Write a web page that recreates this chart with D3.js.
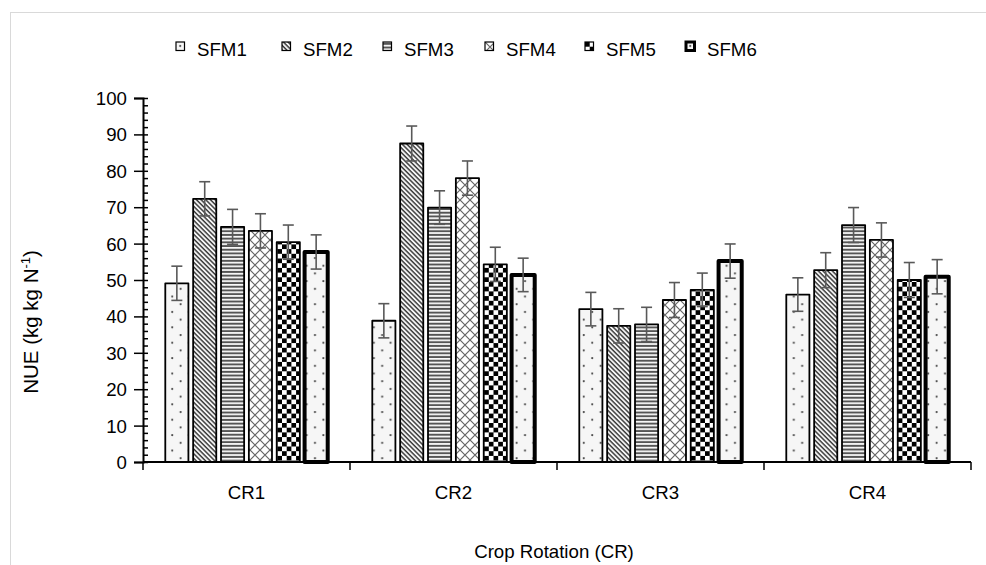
<!DOCTYPE html>
<html>
<head>
<meta charset="utf-8">
<script src="https://cdn.jsdelivr.net/npm/d3@7"></script>
<style>
  body { margin: 0; background: #fff; }
  text { font-family: 'Liberation Sans', Arial, sans-serif; fill: #000; }
</style>
</head>
<body>
<div id="chart"></div>
<script>
// data
const categories = ['CR1', 'CR2', 'CR3', 'CR4']
const seriesNames = ['SFM1', 'SFM2', 'SFM3', 'SFM4', 'SFM5', 'SFM6']
const sfm1 = [49.1, 38.8, 42.0, 46.0]
const sfm2 = [72.3, 87.5, 37.4, 52.7]
const sfm3 = [64.6, 69.9, 37.8, 65.1]
const sfm4 = [63.5, 78.0, 44.5, 61.0]
const sfm5 = [60.4, 54.3, 47.3, 50.0]
const sfm6 = [57.7, 51.4, 55.2, 50.9]
const err1 = [4.7, 4.7, 4.6, 4.6]
const err2 = [4.7, 4.8, 4.7, 4.8]
const err3 = [4.8, 4.6, 4.7, 4.8]
const err4 = [4.7, 4.7, 4.8, 4.7]
const err5 = [4.7, 4.7, 4.6, 4.8]
const err6 = [4.7, 4.6, 4.7, 4.7]
const yTicks = [0, 10, 20, 30, 40, 50, 60, 70, 80, 90, 100]

const values = [sfm1, sfm2, sfm3, sfm4, sfm5, sfm6]
const errors = [err1, err2, err3, err4, err5, err6]
const rows = []
seriesNames.forEach((s, i) => {
  categories.forEach((c, j) => {
    rows.push({ series: s, idx: i, cat: c, value: values[i][j], err: errors[i][j] })
  })
})

const width = 986, height = 565
const plot = { left: 143, right: 971, top: 98, bottom: 462 }
const fontSize = 18.67

const svg = d3.select('#chart').append('svg')
  .attr('width', width)
  .attr('height', height)

// outer chart frame
svg.append('rect')
  .attr('x', 10.5).attr('y', 12.5)
  .attr('width', width).attr('height', height)
  .attr('fill', 'none')
  .attr('stroke', '#d9d9d9')

const defs = svg.append('defs')

// fill patterns
function dots (id) {
  const p = defs.append('pattern').attr('id', id)
    .attr('patternUnits', 'userSpaceOnUse')
    .attr('width', 16.8).attr('height', 15.4)
  p.append('rect').attr('width', 16.8).attr('height', 15.4).attr('fill', '#f6f6f6')
  p.append('circle').attr('cx', 4.2).attr('cy', 3.9).attr('r', 1.1).attr('fill', '#444')
  p.append('circle').attr('cx', 12.6).attr('cy', 11.6).attr('r', 1.1).attr('fill', '#444')
}
dots('p-sfm1')
dots('p-sfm6')

const diag = defs.append('pattern').attr('id', 'p-sfm2')
  .attr('patternUnits', 'userSpaceOnUse')
  .attr('width', 3.3).attr('height', 10)
  .attr('patternTransform', 'rotate(-45)')
diag.append('rect').attr('width', 3.3).attr('height', 10).attr('fill', '#fff')
diag.append('line').attr('x1', 1).attr('x2', 1).attr('y1', 0).attr('y2', 10)
  .attr('stroke', '#333').attr('stroke-width', 1.5)

const horiz = defs.append('pattern').attr('id', 'p-sfm3')
  .attr('patternUnits', 'userSpaceOnUse')
  .attr('width', 10).attr('height', 3.7)
horiz.append('rect').attr('width', 10).attr('height', 3.7).attr('fill', '#fff')
horiz.append('rect').attr('y', 0.8).attr('width', 10).attr('height', 2).attr('fill', '#555')

const lattice = defs.append('pattern').attr('id', 'p-sfm4')
  .attr('patternUnits', 'userSpaceOnUse')
  .attr('width', 10).attr('height', 10)
lattice.append('rect').attr('width', 10).attr('height', 10).attr('fill', '#fff')
lattice.append('path').attr('d', 'M0,0L10,10M10,0L0,10')
  .attr('stroke', '#666').attr('stroke-width', 1.2)

const checker = defs.append('pattern').attr('id', 'p-sfm5')
  .attr('patternUnits', 'userSpaceOnUse')
  .attr('width', 9.4).attr('height', 9.4)
checker.append('rect').attr('width', 9.4).attr('height', 9.4).attr('fill', '#fff')
checker.append('rect').attr('width', 4.7).attr('height', 4.7).attr('fill', '#000')
checker.append('rect').attr('x', 4.7).attr('y', 4.7).attr('width', 4.7).attr('height', 4.7).attr('fill', '#000')

const strokeW = s => s === 'SFM6' ? 4 : 1.8

// scales
const x0 = d3.scaleBand().domain(categories).range([plot.left, plot.right])
const x1 = d3.scaleBand().domain(seriesNames).range([0, x0.bandwidth()])
  .paddingInner(0.17).paddingOuter(0.8)
const y = d3.scaleLinear().domain([0, 100]).range([plot.bottom, plot.top])

// bars
svg.append('g').selectAll('rect')
  .data(rows).enter()
  .append('rect')
    .attr('x', d => x0(d.cat) + x1(d.series))
    .attr('y', d => y(d.value))
    .attr('width', x1.bandwidth())
    .attr('height', d => y(0) - y(d.value))
    .attr('fill', d => `url(#p-${d.series.toLowerCase()})`)
    .attr('stroke', '#000')
    .attr('stroke-width', d => strokeW(d.series))
    .attr('stroke-linejoin', 'round')

// error bars
const eb = svg.append('g')
  .attr('stroke', '#595959')
  .attr('stroke-width', 1.6)
  .selectAll('g')
  .data(rows).enter()
  .append('g')
    .attr('transform', d => `translate(${x0(d.cat) + x1(d.series) + x1.bandwidth() / 2},0)`)
eb.append('line')
  .attr('y1', d => y(d.value + d.err))
  .attr('y2', d => y(d.value - d.err))
eb.append('line').attr('x1', -5.5).attr('x2', 5.5)
  .attr('y1', d => y(d.value + d.err)).attr('y2', d => y(d.value + d.err))
eb.append('line').attr('x1', -5.5).attr('x2', 5.5)
  .attr('y1', d => y(d.value - d.err)).attr('y2', d => y(d.value - d.err))

// y axis
const yAxis = svg.append('g')
  .attr('transform', `translate(${plot.left},0)`)
  .call(d3.axisLeft(y).tickValues(yTicks).tickSize(9).tickPadding(7))
yAxis.select('.domain').attr('stroke-width', 2)
yAxis.selectAll('.tick line').attr('stroke-width', 1.5)
yAxis.selectAll('.tick text')
  .attr('font-size', fontSize)
  .attr('dy', '0.35em')
// minor ticks inside
svg.append('g')
  .attr('transform', `translate(${plot.left},0)`)
  .call(d3.axisRight(y).tickValues(d3.range(0, 101, 2)).tickSize(5).tickFormat(''))
  .call(g => g.select('.domain').remove())
  .selectAll('.tick line').attr('stroke-width', 1.5)

// x axis
const xAxis = svg.append('g')
  .attr('transform', `translate(0,${plot.bottom})`)
  .call(d3.axisBottom(x0).tickSize(0).tickPadding(0))
xAxis.select('.domain').attr('stroke-width', 2).attr('d', `M${plot.left},0H${plot.right}`)
xAxis.selectAll('.tick text')
  .attr('font-size', fontSize)
  .attr('dy', null)
  .attr('y', 37)
xAxis.selectAll('.sep')
  .data(categories.concat(['end'])).enter()
  .append('line')
    .attr('x1', (d, i) => i < categories.length ? x0(d) : plot.right)
    .attr('x2', (d, i) => i < categories.length ? x0(d) : plot.right)
    .attr('y1', 0).attr('y2', 8)
    .attr('stroke', '#000').attr('stroke-width', 1.5)

// axis titles
svg.append('text')
  .attr('x', (plot.left + plot.right) / 2 - 3)
  .attr('y', 558)
  .attr('text-anchor', 'middle')
  .attr('font-size', fontSize)
  .text('Crop Rotation (CR)')

const yt = svg.append('text')
  .attr('transform', 'translate(38,322) rotate(-90)')
  .attr('text-anchor', 'middle')
  .attr('font-size', 20.5)
yt.append('tspan').text('NUE (kg kg N')
yt.append('tspan').attr('font-size', 13).attr('dy', -8).text('-1')
yt.append('tspan').attr('dy', 8).text(')')

// legend
const legendX = [176, 282, 383, 485, 585, 686]
const lg = svg.append('g').selectAll('g')
  .data(seriesNames).enter()
  .append('g')
    .attr('transform', (d, i) => `translate(${legendX[i]},42)`)
lg.append('rect')
  .attr('width', 8.5).attr('height', 8.5)
  .attr('fill', d => `url(#p-${d.toLowerCase()})`)
  .attr('stroke', '#000')
  .attr('stroke-width', d => d === 'SFM6' ? 3 : 1.2)
lg.append('text')
  .attr('x', 21).attr('y', 14)
  .attr('font-size', fontSize)
  .text(d => d)
</script>
</body>
</html>
